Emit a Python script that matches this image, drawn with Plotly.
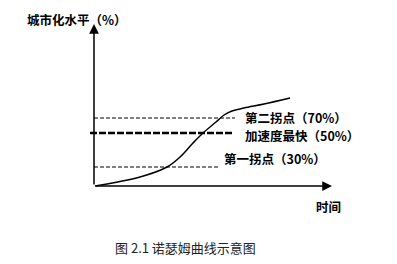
import plotly.graph_objects as go

# Schematic curve (time units, urbanization height units)
curve_x = [1, 46, 73, 86, 99, 109, 122, 130, 138, 150, 170, 196]
curve_y = [0, 9, 19, 29, 43, 53, 64, 71, 75, 78, 82, 88]

# reference levels: label, level, line start, line end
levels = [
    ("第二拐点（70%）", 68, 0, 141),
    ("加速度最快（50%）", 53, -4, 139),
    ("第一拐点（30%）", 19, 0, 124),
]

fig = go.Figure()

fig.add_trace(go.Scatter(x=curve_x, y=curve_y, mode="lines",
                         line=dict(color="black", width=1.5, shape="spline", smoothing=1.0),
                         hoverinfo="skip"))

dash_styles = [dict(width=1.2, dash="4px,2px"), dict(width=2.6, dash="7px,2px"), dict(width=1.2, dash="4px,2px")]
for (lab, lv, x0, x1), st in zip(levels, dash_styles):
    fig.add_trace(go.Scatter(x=[x0, x1], y=[lv, lv], mode="lines",
                             line=dict(color="black", **st), hoverinfo="skip"))

# axes with arrows
fig.add_annotation(x=238, y=0, ax=0, ay=0, xref="x", yref="y", axref="x", ayref="y",
                   showarrow=True, arrowhead=2, arrowsize=1.3, arrowwidth=1.5, arrowcolor="black", text="")
fig.add_annotation(x=0, y=162, ax=0, ay=0, xref="x", yref="y", axref="x", ayref="y",
                   showarrow=True, arrowhead=2, arrowsize=1.3, arrowwidth=1.5, arrowcolor="black", text="")

font_lab = dict(family="Noto Sans CJK SC", size=12.5, color="black")
fig.add_annotation(x=-69, y=167, text="<b>城市化水平（%）</b>", showarrow=False,
                   xanchor="left", yanchor="middle", font=font_lab)
label_pos = [(149, 69), (149, 51), (128, 28)]
for (lab, lv, x0, x1), (tx, ty) in zip(levels, label_pos):
    fig.add_annotation(x=tx, y=ty, text="<b>" + lab + "</b>", showarrow=False,
                       xanchor="left", yanchor="middle", font=font_lab)
fig.add_annotation(x=234, y=-20, text="<b>时间</b>", showarrow=False,
                   xanchor="center", yanchor="middle", font=font_lab)
fig.add_annotation(x=19, y=-61, text="图 2.1 诺瑟姆曲线示意图", showarrow=False,
                   xanchor="left", yanchor="middle",
                   font=dict(family="Noto Sans CJK SC", size=13, color="#222"))

fig.update_layout(width=397, height=264, margin=dict(l=0, r=0, t=0, b=0),
                  paper_bgcolor="white", plot_bgcolor="white", showlegend=False,
                  xaxis=dict(range=[-94, 303], visible=False, fixedrange=True),
                  yaxis=dict(range=[-78, 186], visible=False, fixedrange=True))
fig.write_html("out.html")
